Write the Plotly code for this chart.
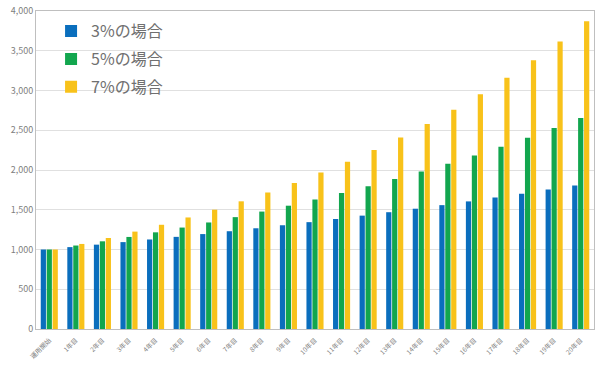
import plotly.graph_objects as go

categories = ["運用開始"] + [f"{i}年目" for i in range(1, 21)]
rate3 = [1000, 1030, 1061, 1093, 1126, 1159, 1194, 1230, 1267, 1305, 1344,
         1384, 1426, 1469, 1513, 1558, 1605, 1653, 1702, 1754, 1806]
rate5 = [1000, 1050, 1103, 1158, 1216, 1276, 1340, 1407, 1477, 1551, 1629,
         1710, 1796, 1886, 1980, 2079, 2183, 2292, 2407, 2527, 2653]
rate7 = [1000, 1070, 1145, 1225, 1311, 1403, 1501, 1606, 1718, 1838, 1967,
         2105, 2252, 2410, 2579, 2759, 2952, 3159, 3380, 3617, 3870]
names = ["3%の場合", "5%の場合", "7%の場合"]
colors = ["#0A6EBD", "#12A64E", "#F8C21A"]

FONT = "Noto Sans CJK JP"
fig = go.Figure()
for i, (vals, name, col) in enumerate(zip([rate3, rate5, rate7], names, colors)):
    fig.add_trace(go.Bar(x=categories, y=vals, name=name, marker_color=col,
                         marker_line_width=0, legendgroup=str(i)))

fig.update_layout(
    width=600, height=366,
    margin=dict(l=36, r=6, t=11, b=37),
    paper_bgcolor="white", plot_bgcolor="white",
    barmode="group", bargap=0.33, bargroupgap=0.12,
    font=dict(family=FONT, color="#808080"),
    legend=dict(x=0.027, y=0.99, xanchor="left", yanchor="top",
                bgcolor="rgba(0,0,0,0)", tracegroupgap=4,
                font=dict(size=16, color="#707070", family=FONT)),
    xaxis=dict(tickangle=-45, tickfont=dict(size=6.5, color="#808080"),
               showline=True, linecolor="#BFBFBF", mirror=True, ticks="",
               showgrid=False, ticklabelstandoff=4, automargin=False),
    yaxis=dict(range=[0, 4000], dtick=500, tickformat=",",
               tickfont=dict(size=9, color="#808080"),
               showline=True, linecolor="#BFBFBF", mirror=True,
               gridcolor="#E0E0E0", zeroline=False, ticks="",
               automargin=False),
)
fig.write_html("out.html")
